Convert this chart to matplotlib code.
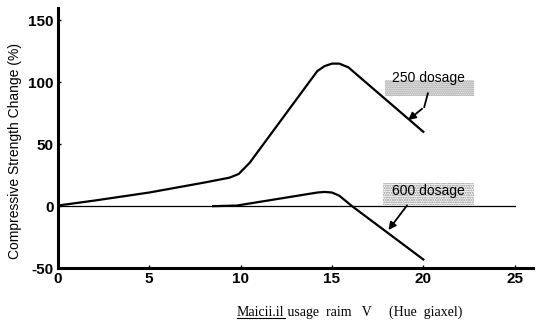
import matplotlib

matplotlib.use("Agg")
import matplotlib.pyplot as plt
from matplotlib.lines import Line2D
from matplotlib.patches import Rectangle

# values
usage_250 = [0.0, 2.0, 5.0, 8.0, 9.4, 9.9, 10.5, 14.2, 14.6, 15.0, 15.4, 15.9, 20.0]
change_250 = [0.5, 4.5, 11.0, 19.0, 23.0, 26.0, 35.0, 109.0, 113.0, 115.0, 115.0, 112.0, 60.0]
usage_600 = [8.5, 9.8, 14.2, 14.6, 15.0, 15.4, 16.1, 20.0]
change_600 = [0.0, 0.5, 11.0, 11.5, 11.0, 8.5, 0.0, -43.0]
x_ticks = [0, 5, 10, 15, 20, 25]
y_ticks = [-50, 0, 50, 100, 150]
label_250 = "250 dosage"
label_600 = "600 dosage"
y_title = "Compressive Strength Change (%)"
x_title_under = "Maicii.il"
x_title_rest = " usage  raim   V     (Hue  giaxel)"

plt.rcParams["font.family"] = ["Liberation Sans", "DejaVu Sans"]
plt.rcParams["axes.unicode_minus"] = False

fig = plt.figure(figsize=(5.4, 3.27), dpi=100)
ax = fig.add_axes([0.107, 0.180, 0.880, 0.796])

ax.plot(usage_250, change_250, color="black", lw=1.6, solid_joinstyle="round")
ax.plot(usage_600, change_600, color="black", lw=1.6, solid_joinstyle="round")
ax.plot([0, 25], [0, 0], color="black", lw=0.9)

ax.set_xlim(0, 26)
ax.set_ylim(-50, 160)
ax.set_xticks(x_ticks)
ax.set_yticks(y_ticks)
ax.tick_params(direction="in", length=2.5, width=1, labelsize=11, pad=3)
for lab in ax.get_xticklabels() + ax.get_yticklabels():
    lab.set_fontweight("bold")
for side in ["top", "right"]:
    ax.spines[side].set_visible(False)
for side in ["left", "bottom"]:
    ax.spines[side].set_linewidth(2.2)

# speckled grey background behind the labels (scan noise)
ax.add_patch(Rectangle((17.9, 89), 4.9, 12.5, facecolor="none", edgecolor="#8c8c8c",
                       hatch="........", lw=0, zorder=1))
ax.add_patch(Rectangle((17.8, 1), 5.0, 18, facecolor="none", edgecolor="#8c8c8c",
                       hatch=".......", lw=0, zorder=1))

ax.text(20.3, 103, label_250, ha="center", va="center", fontsize=10, zorder=3)
ax.text(20.3, 12, label_600, ha="center", va="center", fontsize=10, zorder=3)

# arrows from labels to curves
ax.plot([20.25, 20.05], [91, 80], color="black", lw=1.3)
ax.annotate("", xy=(19.05, 68), xytext=(20.05, 80),
            arrowprops=dict(arrowstyle="-|>", color="black", lw=1.3, mutation_scale=11))
ax.annotate("", xy=(18.0, -21), xytext=(19.2, 2.4),
            arrowprops=dict(arrowstyle="-|>", color="black", lw=1.3, mutation_scale=11))

ax.set_ylabel(y_title, fontsize=10, labelpad=4)
ax.yaxis.set_label_coords(-0.075, 0.45)

t1 = fig.text(237 / 540, 1 - 312 / 327, x_title_under, family="Liberation Serif",
              fontsize=10, ha="left", va="center")
fig.canvas.draw()
bb = t1.get_window_extent()
fig.text(bb.x1 / 540, 1 - 312 / 327, x_title_rest, family="Liberation Serif",
         fontsize=10, ha="left", va="center")
fig.add_artist(Line2D([bb.x0 / 540, bb.x1 / 540], [(bb.y0 + 1) / 327] * 2,
                      color="black", lw=0.8))

fig.savefig("out.png", dpi=100, facecolor="white")
